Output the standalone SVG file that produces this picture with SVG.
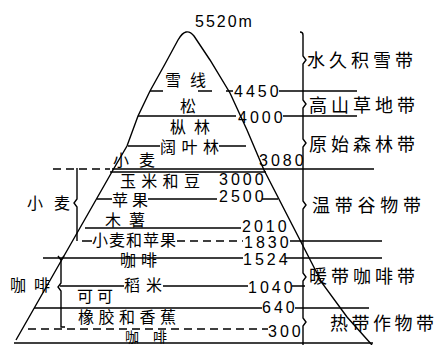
<svg xmlns="http://www.w3.org/2000/svg" width="439" height="345" viewBox="0 0 439 345">
<style>
.ln{stroke:#000;stroke-width:1.4;fill:none}
.dash{stroke:#000;stroke-width:1.4;fill:none;stroke-dasharray:8 5}
.num{font-family:"Liberation Sans",Arial,sans-serif;font-size:16px;letter-spacing:3px;fill:#000}
.cn{font-family:"Noto Sans CJK SC","Noto Sans",sans-serif;font-size:16px;fill:#000}
.zone{font-family:"Noto Sans CJK SC","Noto Sans",sans-serif;font-size:18px;letter-spacing:4px;fill:#000}
</style>
<rect width="439" height="345" fill="#fff"/>
<g id="mountain">
<path class="ln" d="M16,340 L113,170 L127,146 L138,116 L150,91 L165,64 L178,40 Q186,26 194,36 L210,60 L230,93 L247,130 L264,170 L301,242 L322,283 L347,317 L372,345"/>
</g>
<g id="connectors">
<path class="ln" d="M150,91H163M198,91H212M226,91H233M279,91H357"/>
<path class="ln" d="M138,116H236M283,116H357"/>
<path class="ln" d="M128,146H160M219,146H246"/>
<path class="dash" d="M53,169H110" stroke-dasharray="6 4"/>
<path class="ln" d="M112,169H374M110,172H266"/>
<path class="ln" d="M97,199H112M148,199H217M262,199H278"/>
<path class="ln" d="M85,228H241"/>
<path class="ln" d="M82,241H92M290,241H382"/>
<path class="dash" d="M177,241H243"/>
<path class="ln" d="M43,258H243M285,258H382"/>
<path class="ln" d="M60,286H124M163,286H248M292,286H305"/>
<path class="ln" d="M34,308H262M295,308H369"/>
<path class="dash" d="M28,329H268"/>
<path class="ln" d="M14,343H373"/>
<path class="ln" d="M77,168V199l-3,4l3,4V241"/>
<path class="ln" d="M58,256l3,4l3,-4M61,260V283l-3,4l3,4V327h4"/>
<path class="ln" d="M300,32q3,0 3,3V56l3,4l-3,4V100l3,4l-3,4V139l3,4l-3,4V201l3,4l-3,4V273l3,4l-3,4V318l3,4l-3,4V345"/>
</g>
<g id="numbers">
<text class="num" x="195" y="27" style="letter-spacing:2px">5520m</text>
<text class="num" x="234" y="97">4450</text>
<text class="num" x="238" y="123">4000</text>
<text class="num" x="259" y="166">3080</text>
<text class="num" x="219" y="185">3000</text>
<text class="num" x="219" y="202">2500</text>
<text class="num" x="242" y="232">2010</text>
<text class="num" x="244" y="248">1830</text>
<text class="num" x="243" y="265">1524</text>
<text class="num" x="248" y="293">1040</text>
<text class="num" x="262" y="313">640</text>
<text class="num" x="268" y="337">300</text>
</g>
<g id="crops">
<text class="cn" x="165" y="86" style="letter-spacing:9px">雪线</text>
<text class="cn" x="180" y="112">松</text>
<text class="cn" x="170" y="133" style="letter-spacing:8px">枞林</text>
<text class="cn" x="160" y="153" style="letter-spacing:5.5px">阔叶林</text>
<text class="cn" x="113" y="166" style="letter-spacing:10px">小麦</text>
<text class="cn" x="120" y="187" style="letter-spacing:5.3px">玉米和豆</text>
<text class="cn" x="112" y="206" style="letter-spacing:4px">苹果</text>
<text class="cn" x="105" y="226" style="letter-spacing:8px">木薯</text>
<text class="cn" x="92" y="246" style="letter-spacing:1px">小麦和苹果</text>
<text class="cn" x="120" y="266" style="letter-spacing:5px">咖啡</text>
<text class="cn" x="124" y="291" style="letter-spacing:6px">稻米</text>
<text class="cn" x="77" y="302" style="letter-spacing:4px">可可</text>
<text class="cn" x="78" y="323" style="letter-spacing:4.5px">橡胶和香蕉</text>
<text class="cn" x="125" y="342" style="font-size:14px;letter-spacing:14px">咖啡</text>
<text class="cn" x="27" y="209" style="letter-spacing:11px">小麦</text>
<text class="cn" x="10" y="291" style="letter-spacing:8px">咖啡</text>
</g>
<g id="zones">
<text class="zone" x="307" y="67">水久积雪带</text>
<text class="zone" x="309" y="112">高山草地带</text>
<text class="zone" x="309" y="151">原始森林带</text>
<text class="zone" x="312" y="212" style="letter-spacing:4.75px">温带谷物带</text>
<text class="zone" x="309" y="283">暖带咖啡带</text>
<text class="zone" x="330" y="330" style="letter-spacing:3.5px">热带作物带</text>
</g>
</svg>
